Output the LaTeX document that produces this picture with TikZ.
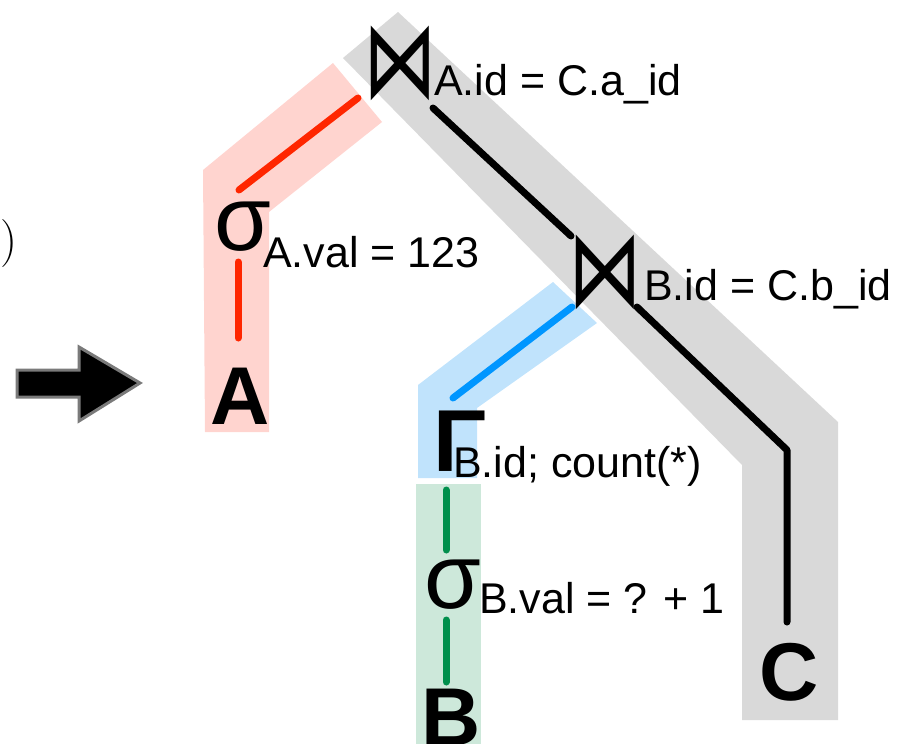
\documentclass[tikz,border=0pt]{standalone}
\usepackage{graphicx}
\usepackage{fontspec}
\newfontfamily\labfont{Liberation Sans}
\newfontfamily\symfont{DejaVu Sans}

\definecolor{bandgray}{HTML}{D9D9D9}
\definecolor{bandpink}{HTML}{FFD4CF}
\definecolor{bandblue}{HTML}{C0E3FC}
\definecolor{bandgreen}{HTML}{CDE8DA}
\definecolor{edgered}{HTML}{FF2600}
\definecolor{edgeblue}{HTML}{0096FF}
\definecolor{edgegreen}{HTML}{008F4C}
\definecolor{arrowrim}{HTML}{7A7A7A}

% tall join symbol
\newcommand{\tallbowtie}{\scalebox{1.15}[1.7]{⋈}}

\begin{document}
\begin{tikzpicture}[x=1pt,y=-1pt,
  edge/.style={line width=7pt,line cap=round},
  relname/.style={inner sep=0pt,font=\labfont\bfseries\fontsize{82}{82}\selectfont},
  joinop/.style={inner sep=0pt,font=\symfont\fontsize{64}{64}\selectfont},
  selop/.style={inner sep=0pt,font=\labfont\fontsize{92}{92}\selectfont},
  groupop/.style={inner sep=0pt,font=\labfont\bfseries\fontsize{88}{88}\selectfont},
  cond/.style={inner sep=0pt,anchor=base west,font=\labfont\fontsize{43}{43}\selectfont}]
\useasboundingbox (0,0) rectangle (902,744);
\clip (0,0) rectangle (902,744);

% highlighted sub-plans
\fill[bandgray] (343,58) -- (398,12) -- (838,422) -- (838,720) -- (742,720) -- (742,465) -- cycle;
\fill[bandpink] (203,170) -- (333,63) -- (382,122) -- (269,212) -- (269,432) -- (205,432) -- cycle;
\fill[bandblue] (418,385) -- (553,282) -- (597,323) -- (477,408) -- (477,478) -- (418,478) -- cycle;
\fill[bandgreen] (416,484) rectangle (481,750);

% closing parenthesis of the preceding expression
\node[inner sep=0pt,anchor=base east,font=\fontsize{48}{48}\selectfont] (paren) at (18,255) {)};

% rewrite arrow
\draw[arrowrim,line width=3pt,fill=black,line join=miter]
  (17,370) -- (79,370) -- (79,347) -- (140,383) -- (79,421) -- (79,397) -- (17,397) -- cycle;

% operators
\node[joinop] (join1) at (400,63) {\tallbowtie};
\node[cond] (join1c) at (434,95) {A.id = C.a\_id};
\node[selop] (selA) at (243,227) {σ};
\node[cond] (selAc) at (263,267) {A.val = 123};
\node[relname] (relA) at (240.5,396) {A};

\node[joinop] (join2) at (605,272) {\tallbowtie};
\node[cond] (join2c) at (644,300) {B.id = C.b\_id};
\node[groupop] (grp) at (460,441.5) {Γ};
\node[cond] (grpc) at (453,477) {B.id; count(*)};
\node[selop] (selB) at (453,585) {σ};
\node[cond] (selBc) at (479,613) {B.val = ? + 1};
\node[relname] (relB) at (451,717) {B};
\node[relname] (relC) at (789,672) {C};

% edge end points
\coordinate (r1) at (358,98);   \coordinate (r2) at (239,190);
\coordinate (r3) at (238,262);  \coordinate (r4) at (238,338);
\coordinate (k1) at (433,108);  \coordinate (k2) at (571,236);
\coordinate (k3) at (637,307);  \coordinate (k4) at (787,450);
\coordinate (k5) at (787,622);
\coordinate (b1) at (572,307);  \coordinate (b2) at (453,398);
\coordinate (g1) at (446,490);  \coordinate (g2) at (446,550);
\coordinate (g3) at (446,620);  \coordinate (g4) at (446,682);

% edges
\draw[edge,edgered] (r1) -- (r2);
\draw[edge,edgered] (r3) -- (r4);
\draw[edge,black] (k1) -- (k2);
\draw[edge,black,line join=round] (k3) -- (k4) -- (k5);
\draw[edge,edgeblue] (b1) -- (b2);
\draw[edge,edgegreen] (g1) -- (g2);
\draw[edge,edgegreen] (g3) -- (g4);
\end{tikzpicture}
\end{document}
